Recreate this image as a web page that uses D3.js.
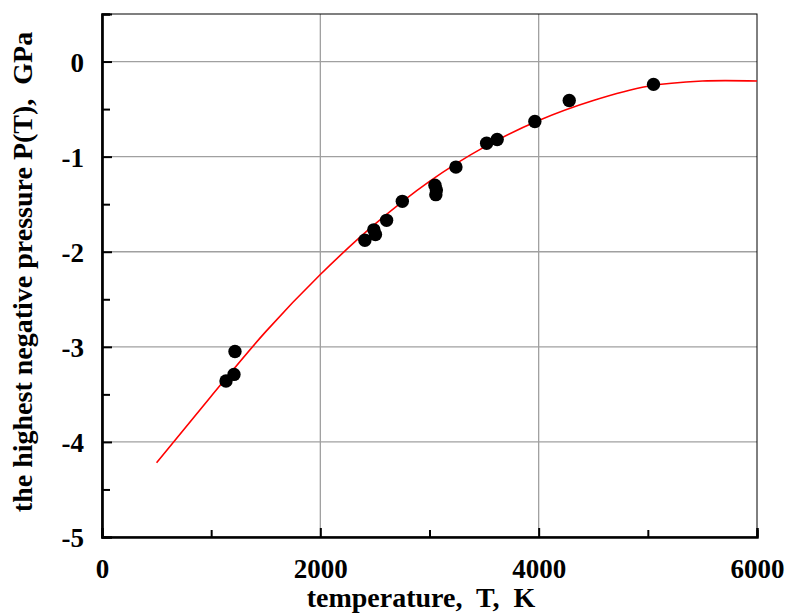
<!DOCTYPE html>
<html>
<head>
<meta charset="utf-8">
<script src="https://cdn.jsdelivr.net/npm/d3@7"></script>
<style>
  body { margin: 0; background: #fff; }
  text { font-family: "Liberation Serif", "Times New Roman", serif; font-weight: bold; fill: #000; }
</style>
</head>
<body>
<div class="chart"></div>
<script>
// measured points, temperature (K) vs highest negative pressure (GPa)
const pointT = [1136, 1209, 1218, 2408, 2490, 2505, 2607, 2751, 3050, 3063, 3058, 3242, 3523, 3620, 3965, 4280, 5052]
const pointP = [-3.36, -3.29, -3.05, -1.88, -1.77, -1.82, -1.67, -1.47, -1.30, -1.35, -1.40, -1.11, -0.86, -0.82, -0.63, -0.41, -0.24]

// fitted curve
const curveT = [500, 1000, 1500, 2000, 2500, 3000, 3500, 4000, 4500, 5000, 5500, 6000]
const curveP = [-4.22, -3.52, -2.84, -2.24, -1.71, -1.26, -0.90, -0.62, -0.41, -0.26, -0.205, -0.205]

const xTicks = [0, 2000, 4000, 6000]
const xMinor = [1000, 3000, 5000]
const yTicks = [0, -1, -2, -3, -4, -5]
const yMinor = [0.5, -0.5, -1.5, -2.5, -3.5, -4.5]

var svgWidth = 786
var svgHeight = 614

var margin = { top: 14, bottom: 77, left: 102, right: 29 }
var width = svgWidth - margin.left - margin.right
var height = svgHeight - margin.top - margin.bottom

var svg = d3.select('.chart')
    .append('svg')
    .attr('width', svgWidth)
    .attr('height', svgHeight)

var chartGroup = svg.append('g')
    .attr('transform', `translate(${margin.left}, ${margin.top})`)

var xScale = d3.scaleLinear().domain([0, 6000]).range([0, width])
var yScale = d3.scaleLinear().domain([-5, 0.5]).range([height, 0])

// grid
chartGroup.selectAll('.hgrid')
    .data(yTicks.filter(d => d > -5))
    .enter().append('line')
    .attr('x1', 0).attr('x2', width)
    .attr('y1', d => yScale(d)).attr('y2', d => yScale(d))
    .attr('stroke', '#a0a0a0').attr('stroke-width', 1.3)

chartGroup.selectAll('.vgrid')
    .data(xTicks.filter(d => d > 0 && d < 6000))
    .enter().append('line')
    .attr('x1', d => xScale(d)).attr('x2', d => xScale(d))
    .attr('y1', 0).attr('y2', height)
    .attr('stroke', '#a0a0a0').attr('stroke-width', 1.3)

// frame
chartGroup.append('rect')
    .attr('width', width).attr('height', height)
    .attr('fill', 'none').attr('stroke', '#000').attr('stroke-width', 1)

// axes with inward ticks
var xAxis = chartGroup.append('g')
    .attr('transform', `translate(0, ${height})`)
    .call(d3.axisBottom(xScale).tickValues(xTicks).tickSize(-9).tickFormat(d3.format('d')))
xAxis.append('g')
    .call(d3.axisBottom(xScale).tickValues(xMinor).tickSize(-7).tickFormat(''))

var yAxis = chartGroup.append('g')
    .call(d3.axisLeft(yScale).tickValues(yTicks).tickSize(-10).tickFormat(d => d === 0 ? '0' : String(d)).tickPadding(18))
yAxis.append('g')
    .call(d3.axisLeft(yScale).tickValues(yMinor).tickSize(-8).tickFormat(''))

chartGroup.selectAll('.domain').attr('stroke', '#000').attr('stroke-width', 2.2)
chartGroup.selectAll('.tick line').attr('stroke', '#000').attr('stroke-width', 2)
chartGroup.selectAll('.tick text')
    .attr('font-size', '27px')
    .style('font-family', '"Liberation Serif", serif')
    .style('font-weight', 'bold')
    .attr('fill', '#000')
yAxis.selectAll('.tick text').attr('dy', '0.36em')
xAxis.selectAll('.tick text').attr('y', 41).attr('dy', 0)

// fitted curve
var line = d3.line()
    .x((d, i) => xScale(curveT[i]))
    .y(d => yScale(d))
    .curve(d3.curveCatmullRom)

chartGroup.append('path')
    .datum(curveP)
    .attr('d', line)
    .attr('fill', 'none')
    .attr('stroke', '#ff0000')
    .attr('stroke-width', 1.6)

// points
chartGroup.selectAll('.dot')
    .data(pointT)
    .enter().append('circle')
    .attr('cx', d => xScale(d))
    .attr('cy', (d, i) => yScale(pointP[i]))
    .attr('r', 6.7)
    .attr('fill', '#000')

// axis titles
svg.append('text')
    .attr('x', 421)
    .attr('y', 607)
    .attr('text-anchor', 'middle')
    .attr('font-size', '28px')
    .style('white-space', 'pre')
    .text('temperature,  T,  K')

svg.append('text')
    .attr('transform', 'translate(32, 272) rotate(-90)')
    .attr('text-anchor', 'middle')
    .attr('font-size', '28px')
    .style('white-space', 'pre')
    .text('the highest negative pressure P(T),  GPa')
</script>
</body>
</html>
